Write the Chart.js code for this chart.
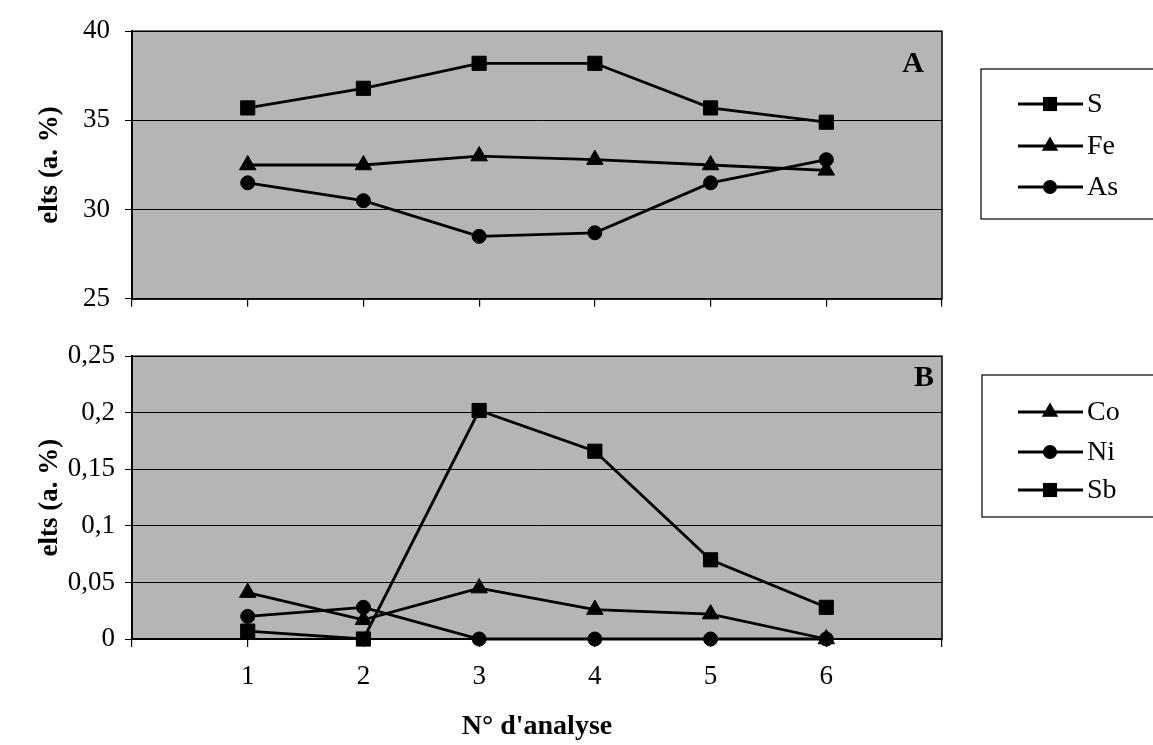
<!DOCTYPE html>
<html><head><meta charset="utf-8">
<script src="https://cdn.jsdelivr.net/npm/chart.js@4/dist/chart.umd.min.js"></script>
<style>
html,body{margin:0;padding:0;background:#fff;width:1153px;height:745px;overflow:hidden}
canvas{position:absolute;left:0}
#cA{top:0}
#cB{top:330px}
</style></head><body>
<canvas id="cA" width="1153" height="330"></canvas>
<canvas id="cB" width="1153" height="415"></canvas>
<script>
// ---- data ----
const analyses = [1, 2, 3, 4, 5, 6];
const S  = [35.7, 36.8, 38.2, 38.2, 35.7, 34.9];
const Fe = [32.5, 32.5, 33.0, 32.8, 32.5, 32.2];
const As = [31.5, 30.5, 28.5, 28.7, 31.5, 32.8];
const Co = [0.041, 0.017, 0.045, 0.026, 0.022, 0];
const Ni = [0.020, 0.028, 0, 0, 0, 0];
const Sb = [0.007, 0, 0.202, 0.166, 0.070, 0.028];
const xTickLabels  = ['', '1', '2', '3', '4', '5', '6', ''];
const yTickLabelsA = ['25', '30', '35', '40'];
const yTickLabelsB = ['0', '0,05', '0,1', '0,15', '0,2', '0,25'];
const xTitle = "N° d'analyse";
const yTitle = 'elts (a. %)';

const FONT = '"Liberation Serif", "Times New Roman", serif';
const MARK_R = {rect: 10, triangle: 9.5, circle: 7};

function pts(arr) { return analyses.map((x, i) => ({x: x, y: arr[i]})); }
function ds(label, arr, style) {
  return {
    label: label, data: pts(arr), pointStyle: style,
    borderColor: '#000', backgroundColor: '#000', borderWidth: 2.8,
    pointRadius: MARK_R[style], pointHoverRadius: MARK_R[style],
    pointBackgroundColor: '#000', pointBorderColor: '#000', pointBorderWidth: 1,
    tension: 0, clip: false, fill: false
  };
}

function drawMarker(ctx, style, x, y, r) {
  ctx.beginPath();
  if (style === 'rect') {
    const s = r * Math.SQRT1_2;
    ctx.rect(x - s, y - s, 2 * s, 2 * s);
  } else if (style === 'triangle') {
    let a = 0;
    ctx.moveTo(x + Math.sin(a) * r, y - Math.cos(a) * r);
    a += 2 * Math.PI / 3;
    ctx.lineTo(x + Math.sin(a) * r, y - Math.cos(a) * r);
    a += 2 * Math.PI / 3;
    ctx.lineTo(x + Math.sin(a) * r, y - Math.cos(a) * r);
    ctx.closePath();
  } else {
    ctx.arc(x, y, r, 0, Math.PI * 2);
  }
  ctx.fillStyle = '#000';
  ctx.fill();
}

const framePlugin = {
  id: 'frame',
  beforeDraw(chart) {
    const {ctx, chartArea: a} = chart;
    ctx.save();
    ctx.fillStyle = '#b5b5b5';
    ctx.fillRect(a.left, a.top, a.right - a.left, a.bottom - a.top);
    ctx.restore();
  },
  beforeDatasetsDraw(chart) {
    const {ctx, chartArea: a} = chart;
    ctx.save();
    ctx.strokeStyle = '#000';
    ctx.lineWidth = 1.5;
    ctx.strokeRect(a.left, a.top, a.right - a.left, a.bottom - a.top);
    ctx.restore();
  },
  afterDraw(chart, args, opts) {
    const ctx = chart.ctx;
    ctx.save();
    ctx.font = 'bold 30px ' + FONT;
    ctx.fillStyle = '#000';
    ctx.textAlign = 'center';
    ctx.textBaseline = 'middle';
    ctx.fillText(opts.letter, opts.letterX, opts.letterY);
    ctx.strokeStyle = '#000';
    ctx.lineWidth = 1.2;
    ctx.strokeRect(opts.boxX, opts.boxY, 200, opts.boxH);
    ctx.font = '28px ' + FONT;
    ctx.textAlign = 'left';
    chart.data.datasets.forEach((d, i) => {
      const y = opts.itemY[i];
      ctx.beginPath();
      ctx.moveTo(1018, y);
      ctx.lineTo(1083, y);
      ctx.lineWidth = 2.8;
      ctx.strokeStyle = '#000';
      ctx.stroke();
      drawMarker(ctx, d.pointStyle, 1050, y, MARK_R[d.pointStyle]);
      ctx.fillStyle = '#000';
      ctx.fillText(d.label, 1087, y + 1);
    });
    ctx.restore();
  }
};

function makeOptions(cfg) {
  return {
    responsive: false, animation: false, devicePixelRatio: 1,
    layout: {padding: {top: cfg.padTop, right: 211, left: 0, bottom: 0}},
    plugins: {legend: {display: false}, tooltip: {enabled: false}, frame: cfg.frame},
    scales: {
      x: {
        type: 'linear', min: 0, max: 7,
        afterFit: s => { s.height = cfg.xHeight; },
        ticks: {
          display: cfg.showX, stepSize: 1, autoSkip: false, maxRotation: 0,
          color: '#000', font: {family: FONT, size: 27}, padding: 14,
          callback: (v, i) => xTickLabels[i]
        },
        grid: {drawOnChartArea: false, drawTicks: true, tickLength: 8, color: '#000', lineWidth: 1.2},
        border: {display: true, color: '#000', width: 1.8},
        title: {display: cfg.showX, text: xTitle, color: '#000',
                font: {family: FONT, size: 28, weight: 'bold'}, padding: {top: 0, bottom: 1}}
      },
      y: {
        min: cfg.yMin, max: cfg.yMax,
        afterFit: s => { s.width = 132; },
        ticks: {
          stepSize: cfg.yStep, autoSkip: false, color: '#000',
          font: {family: FONT, size: 27}, padding: cfg.yPad,
          callback: (v, i) => cfg.yLabels[i]
        },
        grid: {color: '#000', lineWidth: 1, drawTicks: true, tickLength: 7},
        border: {display: true, color: '#000', width: 1.8},
        title: {display: true, text: yTitle, color: '#000',
                font: {family: FONT, size: 27, weight: 'bold'}, padding: {top: 34, bottom: 0}}
      }
    }
  };
}

new Chart(document.getElementById('cA'), {
  type: 'line',
  data: {datasets: [ds('S', S, 'rect'), ds('Fe', Fe, 'triangle'), ds('As', As, 'circle')]},
  options: makeOptions({
    padTop: 24, xHeight: 17, showX: false, yMin: 25, yMax: 40, yStep: 5,
    yLabels: yTickLabelsA, yPad: 15,
    frame: {letter: 'A', letterX: 913, letterY: 64, boxX: 981, boxY: 69, boxH: 150, itemY: [104, 146, 187]}
  }),
  plugins: [framePlugin]
});

new Chart(document.getElementById('cB'), {
  type: 'line',
  data: {datasets: [ds('Co', Co, 'triangle'), ds('Ni', Ni, 'circle'), ds('Sb', Sb, 'rect')]},
  options: makeOptions({
    padTop: 22, xHeight: 106, showX: true, yMin: 0, yMax: 0.25, yStep: 0.05,
    yLabels: yTickLabelsB, yPad: 10,
    frame: {letter: 'B', letterX: 924, letterY: 48, boxX: 982, boxY: 45, boxH: 142, itemY: [82, 122, 160]}
  }),
  plugins: [framePlugin]
});
</script>
</body></html>
